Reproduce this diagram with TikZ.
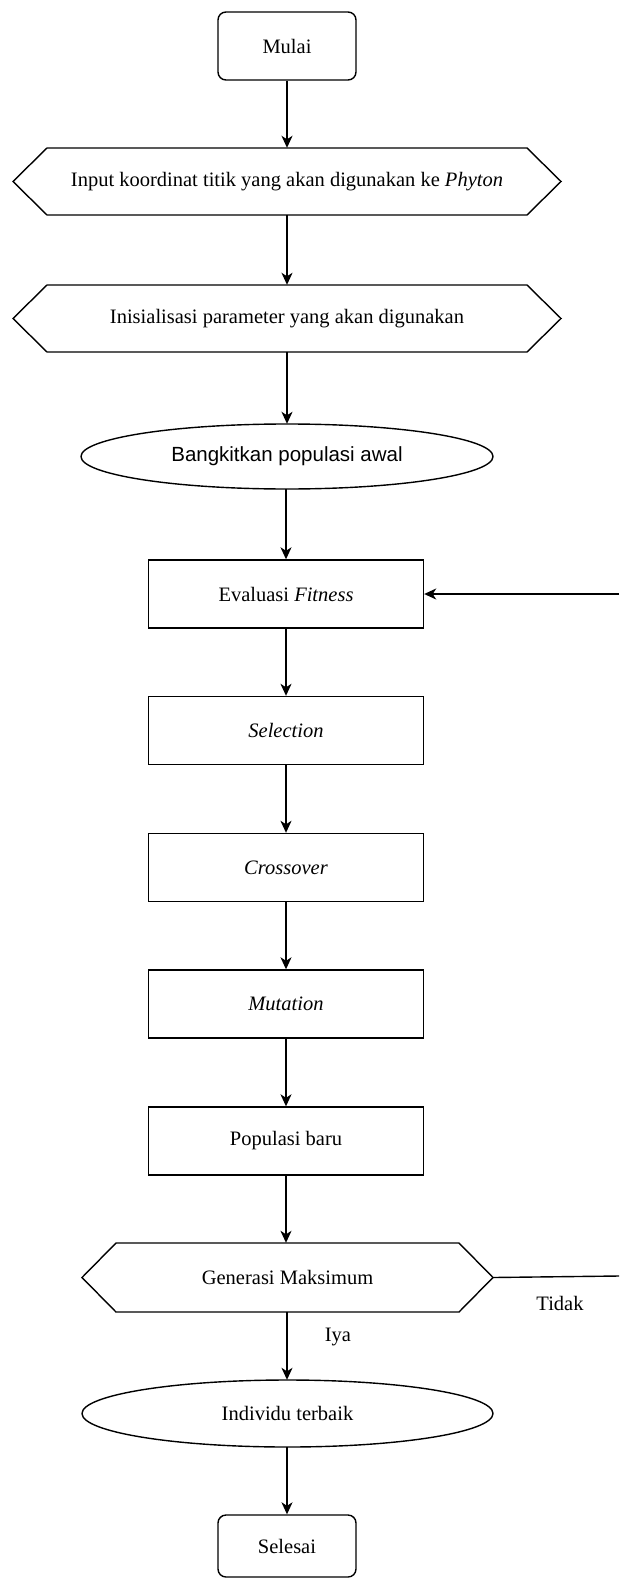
\documentclass[tikz,border=0pt]{standalone}
\usepackage{fontspec}
\setmainfont{Liberation Serif}
\newfontfamily\arialfont{Liberation Sans}
\usetikzlibrary{arrows.meta}
\begin{document}
\begin{tikzpicture}[x=1pt,y=-1pt,
  every node/.style={font=\fontsize{20.5}{24}\selectfont},
  ln/.style={line width=1.4pt},
  arr/.style={ln,-{Stealth[length=12pt,width=11pt,inset=3.5pt]}},
  termbox/.style={draw,ln,rounded corners=8pt,minimum width=138pt,inner sep=0pt},
  procbox/.style={draw,ln,minimum width=275pt,minimum height=68pt,inner sep=0pt},
  hexbox/.style={inner sep=0pt}
]
\useasboundingbox (0,0) rectangle (619,1578);

% terminals
\node[termbox,minimum height=68pt] (mulai) at (287,46) {Mulai};
\node[termbox,minimum height=62pt] (selesai) at (287,1546) {Selesai};

% hexagon 1
\draw[ln] (13,181.5) -- (47,148) -- (527,148) -- (561,181.5) -- (527,215) -- (47,215) -- cycle;
\node[hexbox,minimum width=548pt,minimum height=67pt] (input) at (287,181.5) {Input koordinat titik yang akan digunakan ke \textit{Phyton}};

% hexagon 2
\draw[ln] (13,318.5) -- (47,285) -- (527,285) -- (561,318.5) -- (527,352) -- (47,352) -- cycle;
\node[hexbox,minimum width=548pt,minimum height=67pt] (init) at (287,318.5) {Inisialisasi parameter yang akan digunakan};

% ellipse 1
\draw[ln] (287,456.5) ellipse [x radius=206pt, y radius=32.5pt];
\node[hexbox,minimum width=412pt,minimum height=65pt] (bangkit) at (287,456.5) {\arialfont Bangkitkan populasi awal};

% process boxes
\node[procbox] (eval) at (286,594) {Evaluasi \textit{Fitness}};
\node[procbox] (sel) at (286,730.5) {\textit{Selection}};
\node[procbox] (cross) at (286,867.5) {\textit{Crossover}};
\node[procbox] (mut) at (286,1004) {\textit{Mutation}};
\node[procbox] (pop) at (286,1141) {Populasi baru};

% hexagon Generasi
\draw[ln] (82,1277.5) -- (116,1243) -- (459,1243) -- (493,1277.5) -- (459,1312) -- (116,1312) -- cycle;
\node[hexbox,minimum width=411pt,minimum height=69pt] (gen) at (287.5,1277.5) {Generasi Maksimum};

% ellipse 2
\draw[ln] (287.5,1413.5) ellipse [x radius=205.5pt, y radius=33.5pt];
\node[hexbox,minimum width=411pt,minimum height=67pt] (indiv) at (287.5,1413.5) {Individu terbaik};

% connectors
\draw[arr] (mulai.south) -- (input.north);
\draw[arr] (input.south) -- (init.north);
\draw[arr] (init.south) -- (bangkit.north);
\draw[arr] (bangkit.south -| eval.north) -- (eval.north);
\draw[arr] (eval.south) -- (sel.north);
\draw[arr] (sel.south) -- (cross.north);
\draw[arr] (cross.south) -- (mut.north);
\draw[arr] (mut.south) -- (pop.north);
\draw[arr] (pop.south) -- (pop.south |- gen.north);
\draw[arr] (gen.south -| mulai.south) -- (indiv.north -| mulai.south);
\draw[arr] (indiv.south -| mulai.south) -- (selesai.north);

% feedback
\coordinate (fbB) at (619,1276);
\coordinate (fbT) at (619,594);
\draw[ln] (gen.east) -- (fbB);
\draw[arr] (fbT) -- (eval.east);

% labels
\node (iya) at (338,1337) {Iya};
\node (tidak) at (560,1303) {Tidak};
\end{tikzpicture}
\end{document}
